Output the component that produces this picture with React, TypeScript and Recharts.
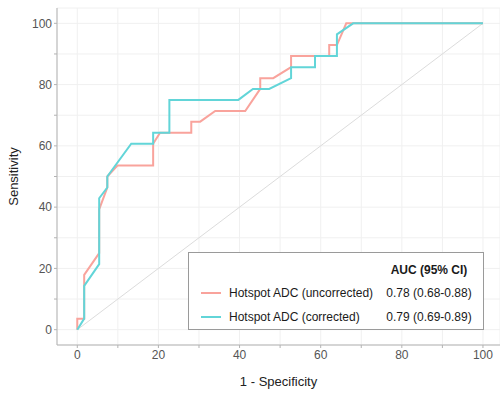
import { LineChart, Line, XAxis, YAxis, CartesianGrid, Legend } from 'recharts';

// ROC coordinates (1 - specificity, sensitivity), in %
const uncorrectedFpr = [0, 0, 1.7, 1.7, 5.4, 5.4, 7.4, 7.4, 9.9, 18.7, 18.7, 20.4, 28.1, 28.1, 30.3, 34, 41.4, 45.1, 45.1, 48.3, 52.7, 52.7, 62.1, 62.1, 64, 66.3, 100];
const uncorrectedTpr = [0, 3.6, 3.6, 17.9, 25, 39.3, 46.4, 50, 53.6, 53.6, 60.7, 64.3, 64.3, 67.9, 67.9, 71.4, 71.4, 78.6, 82.1, 82.1, 85.7, 89.3, 89.3, 92.9, 92.9, 100, 100];

const correctedFpr = [0, 1.7, 1.7, 5.4, 5.4, 7.4, 7.4, 13.3, 18.7, 18.7, 22.7, 22.7, 39.7, 43.3, 47.3, 52.7, 52.7, 58.6, 58.6, 64, 64, 68, 100];
const correctedTpr = [0, 3.6, 14.3, 21.4, 42.9, 46.4, 50, 60.7, 60.7, 64.3, 64.3, 75, 75, 78.6, 78.6, 82.1, 85.7, 85.7, 89.3, 89.3, 96.4, 100, 100];

const chanceLine = [0, 100];

const ticks = [0, 10, 20, 30, 40, 50, 60, 70, 80, 90, 100];

const seriesNames = ['Hotspot ADC (uncorrected)', 'Hotspot ADC (corrected)'];
const aucLabels = ['0.78 (0.68-0.88)', '0.79 (0.69-0.89)'];
const COLORS = ['#f9a39c', '#62d5d8'];

const toPoints = (xs: number[], ys: number[]) => xs.map((x, i) => ({ x, y: ys[i] }));

const uncorrected = toPoints(uncorrectedFpr, uncorrectedTpr);
const corrected = toPoints(correctedFpr, correctedTpr);
const diagonal = toPoints(chanceLine, chanceLine);

const FONT = '"Liberation Sans", Arial, sans-serif';
const AXIS_GREY = '#b3b3b3';

const tickLabel = (v: number) => (v % 20 === 0 ? String(v) : '');

const LegendBox = () => (
  <div
    style={{
      position: 'relative',
      width: 294,
      height: 76,
      border: '1px solid #9a9a9a',
      background: '#fff',
      fontFamily: FONT,
      fontSize: 12,
      color: '#1a1a1a',
    }}
  >
    <div style={{ position: 'absolute', left: 190, width: 100, top: 10, textAlign: 'center', fontWeight: 'bold' }}>
      AUC (95% CI)
    </div>
    {seriesNames.map((name, i) => (
      <div key={name} style={{ position: 'absolute', left: 0, top: 32 + i * 24, width: 294, height: 16 }}>
        <div style={{ position: 'absolute', left: 12, top: 7, width: 20, height: 2, background: COLORS[i] }} />
        <div style={{ position: 'absolute', left: 40, top: 1, whiteSpace: 'nowrap' }}>{name}</div>
        <div style={{ position: 'absolute', left: 190, width: 100, top: 1, textAlign: 'center', whiteSpace: 'nowrap' }}>
          {aucLabels[i]}
        </div>
      </div>
    ))}
  </div>
);

const App = () => {
  return (
    <div style={{ position: 'absolute', left: 0, top: 0 }}>
      <LineChart width={500} height={394} margin={{ top: 8, right: 0, bottom: 19, left: 17 }}>
        <CartesianGrid stroke="#f0f0f0" strokeWidth={1} />
        <XAxis
          type="number"
          dataKey="x"
          domain={[-5, 104.2]}
          ticks={ticks}
          tickFormatter={tickLabel}
          height={30}
          tickSize={3}
          tickMargin={2}
          axisLine={{ stroke: AXIS_GREY }}
          tickLine={{ stroke: AXIS_GREY }}
          tick={{ fill: '#555', fontSize: 12, fontFamily: FONT }}
          label={{ value: '1 - Specificity', position: 'bottom', offset: 2, fill: '#222', fontSize: 13, fontFamily: FONT }}
        />
        <XAxis
          xAxisId="top"
          orientation="top"
          type="number"
          domain={[-5, 104.2]}
          height={0}
          tick={false}
          tickLine={false}
          axisLine={{ stroke: AXIS_GREY }}
        />
        <YAxis
          type="number"
          domain={[-5, 105]}
          ticks={ticks}
          tickFormatter={tickLabel}
          width={40}
          tickSize={3}
          tickMargin={2}
          axisLine={{ stroke: AXIS_GREY }}
          tickLine={{ stroke: AXIS_GREY }}
          tick={{ fill: '#555', fontSize: 12, fontFamily: FONT }}
          label={{
            value: 'Sensitivity',
            angle: -90,
            position: 'insideLeft',
            offset: -4,
            fill: '#222',
            fontSize: 13,
            fontFamily: FONT,
            style: { textAnchor: 'middle' },
          }}
        />
        <Legend
          layout="horizontal"
          verticalAlign="middle"
          align="center"
          wrapperStyle={{ left: 188, top: 252, width: 296, height: 78 }}
          content={() => <LegendBox />}
        />
        <Line
          data={diagonal}
          dataKey="y"
          type="linear"
          stroke="#dcdcdc"
          strokeWidth={1}
          dot={false}
          legendType="none"
          isAnimationActive={false}
        />
        <Line
          data={uncorrected}
          dataKey="y"
          name={seriesNames[0]}
          type="linear"
          stroke={COLORS[0]}
          strokeWidth={2}
          dot={false}
          isAnimationActive={false}
        />
        <Line
          data={corrected}
          dataKey="y"
          name={seriesNames[1]}
          type="linear"
          stroke={COLORS[1]}
          strokeWidth={2}
          dot={false}
          isAnimationActive={false}
        />
      </LineChart>
    </div>
  );
};

export default App;
